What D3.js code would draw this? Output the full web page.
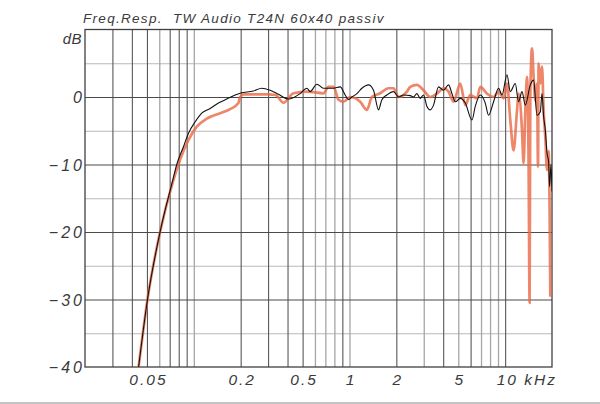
<!DOCTYPE html>
<html>
<head>
<meta charset="utf-8">
<script src="https://cdn.jsdelivr.net/npm/d3@7"></script>
<style>
  html, body { margin: 0; padding: 0; background: #ffffff; }
  svg { display: block; }
  text { font-family: "Liberation Sans", Arial, sans-serif; font-style: italic; fill: #3a3a3a; }
</style>
</head>
<body>
<svg id="chart" width="600" height="404"></svg>
<script>
// ---- data (frequency in kHz, level in dB) ----
const titleText = "Freq.Resp.  TW Audio T24N 60x40 passiv";
const yUnit = "dB";

const blackFreq = [0.0442,0.0504,0.0607,0.0733,0.0777,0.0857,0.0923,0.1019,0.1125,0.1273,0.1439,0.1629,0.1983,0.2414,0.2734,0.3093,0.3497,0.4055,0.4822,0.5325,0.559,0.6173,0.6807,0.7328,0.7894,0.8716,0.9385,0.9854,1.036,1.116,1.202,1.325,1.427,1.536,1.615,1.739,1.918,2.066,2.225,2.456,2.58,2.712,2.848,2.99,3.144,3.302,3.467,3.734,4.022,4.331,4.554,4.782,5.15,5.546,6.122,6.428,6.923,7.454,7.827,8.43,9.078,9.545,10.28,10.79,11.62,12.2,12.83,13.48,14.51,15.24,16.02,16.83,17.25,17.67,18.12,18.58,19.02,19.3,19.71,20.0];
const blackDb   = [-40,-30,-20,-12.3,-10,-7.4,-5.4,-3.7,-2.4,-1.7,-0.9,-0.3,0.55,0.9,1.3,1.0,0.4,-0.3,0.5,1.3,0.8,1.9,1.3,1.3,1.3,1.5,0.3,-0.4,0.0,0.5,1.3,1.8,1.0,-1.9,-0.4,0.3,0.8,0.0,0.3,0.2,0.0,0.5,-0.2,0.3,-1.4,-1.9,-1.2,1.5,1.0,1.8,0.5,-0.7,-0.2,-0.9,-3.4,-1.4,0.3,-0.9,-2.7,-0.7,1.3,0.3,3.3,0.8,2.0,-0.7,0.8,-1.2,1.8,2.5,-2.7,-2.2,0.5,-2.9,-4.9,-8.3,-9.6,-13.3,-10,-14];

const orangeFreq = [0.0442,0.0504,0.0607,0.0733,0.0816,0.0923,0.1045,0.1212,0.1475,0.1711,0.1934,0.1983,0.21,0.25,0.3,0.335,0.3765,0.4366,0.5325,0.6807,0.7328,0.7894,0.85,0.9151,1.01,1.172,1.294,1.393,1.575,1.781,1.918,2.066,2.339,2.456,2.712,2.99,3.302,3.647,4.022,4.331,4.663,5.15,5.546,5.97,6.592,6.923,7.643,8.43,9.078,9.774,10.28,10.79,11.33,11.92,12.2,12.83,13.14,13.48,13.82,14.15,14.36,14.51,14.88,15.24,15.63,16.02,16.26,16.41,16.83,17.25,17.67,18.12,18.58,19.02,19.51];
const orangeDb   = [-40,-30,-20,-12.6,-9.3,-6.4,-4.4,-3.2,-2.4,-1.8,-0.9,0.0,0.4,0.4,0.4,0.3,-0.85,0.55,0.8,0.55,1.5,1.5,-0.4,-0.7,0.0,-0.7,-1.9,0.0,0.55,1.3,1.3,0.0,0.8,1.5,1.8,1.0,0.0,0.5,1.3,0.8,-0.7,2.0,-1.2,0.3,-0.2,1.5,0.5,0.0,0.8,-0.2,2.0,-3.4,-7.9,-2.0,0.5,-4.9,-9.8,-2.0,3.0,-10,-30.5,0.0,7.2,3.0,-0.5,2.0,-10.3,5.0,2.0,4.5,-2.0,-6,-10.8,-8,-29.6];

const xGridValues = [0.03,0.04,0.05,0.06,0.07,0.08,0.09,0.1,0.2,0.3,0.4,0.5,0.6,0.7,0.8,0.9,1,2,3,4,5,6,7,8,9,10];
const xGridFaint = [0.06,0.1,0.6,0.7,0.8,1,3,5,7,8,9];
const yMajorGrid = [-30,-20,-10,0];
const yMinorGrid = [-35,-25,-15,-5,5];
const xTickValues = [0.05,0.2,0.5,1,2,5,10];
const xTickLabels = ["0.05","0.2","0.5","1","2","5","10 kHz"];
const yTickValues = [0,-10,-20,-30,-40];
const yTickLabels = ["0","\u221210","\u221220","\u221230","\u221240"];

// ---- layout ----
const svg = d3.select("#chart");
const L = 85, R = 552, T = 29.5, B = 367;
const x = d3.scaleLog().domain([0.02, 20]).range([L, R]);
const y = d3.scaleLinear().domain([-40, 10]).range([B, T]);

// bottom grey rule
svg.append("rect").attr("x", 0).attr("y", 402).attr("width", 600).attr("height", 2).attr("fill", "#c4c4c4");

// grid: minor horizontal
svg.append("g").attr("transform", `translate(${L},0)`)
  .call(d3.axisLeft(y).tickValues(yMinorGrid).tickSize(-(R - L)).tickFormat(""))
  .call(g => g.select(".domain").remove())
  .call(g => g.selectAll("line").attr("stroke", "#b8b8b8").attr("stroke-width", 1));

// grid: vertical
const faintSet = new Set(xGridFaint);
svg.append("g").attr("transform", `translate(0,${B})`)
  .call(d3.axisBottom(x).tickValues(xGridValues).tickSize(-(B - T)).tickFormat(""))
  .call(g => g.select(".domain").remove())
  .call(g => g.selectAll(".tick line")
    .attr("stroke", d => faintSet.has(d) ? "#a6a6a6" : "#585858")
    .attr("stroke-width", d => faintSet.has(d) ? 1.3 : 1.1));

// grid: major horizontal
svg.append("g").attr("transform", `translate(${L},0)`)
  .call(d3.axisLeft(y).tickValues(yMajorGrid).tickSize(-(R - L)).tickFormat(""))
  .call(g => g.select(".domain").remove())
  .call(g => g.selectAll("line").attr("stroke", "#4a4a4a").attr("stroke-width", 1.2));

// frame
svg.append("rect").attr("x", L).attr("y", T).attr("width", R - L).attr("height", B - T)
  .attr("fill", "none").attr("stroke", "#404040").attr("stroke-width", 1.3);

// clip
svg.append("clipPath").attr("id", "plotclip").append("rect")
  .attr("x", L).attr("y", T - 1).attr("width", R - L).attr("height", B - T + 1);

const line = d3.line().x(d => x(d[0])).y(d => y(d[1])).curve(d3.curveMonotoneX);
const orangeData = orangeFreq.map((f, i) => [f, orangeDb[i]]);
const blackData = blackFreq.map((f, i) => [f, blackDb[i]]);

const plot = svg.append("g").attr("clip-path", "url(#plotclip)");
plot.append("path").datum(orangeData).attr("d", line)
  .attr("fill", "none").attr("stroke", "#ea6843").attr("stroke-opacity", 0.8)
  .attr("stroke-width", 2.7).attr("stroke-linejoin", "round");
plot.append("path").datum(blackData).attr("d", line)
  .attr("fill", "none").attr("stroke", "#111111").attr("stroke-width", 1.1)
  .attr("stroke-linejoin", "round");

// x labels
const xLab = svg.append("g").attr("transform", `translate(0,${B})`)
  .call(d3.axisBottom(x).tickValues(xTickValues).tickSize(0).tickPadding(0)
    .tickFormat((d, i) => xTickLabels[i]))
  .call(g => g.select(".domain").remove());
xLab.selectAll("text")
  .attr("y", 18).attr("dy", 0)
  .style("font-size", "15.5px").style("letter-spacing", "2px")
  .attr("fill", "#3a3a3a").attr("dx", "1px");
xLab.selectAll("text").filter((d, i) => i === xTickValues.length - 1)
  .attr("text-anchor", "start").attr("dx", "-9px");

// y labels
const yLab = svg.append("g").attr("transform", `translate(${L},0)`)
  .call(d3.axisLeft(y).tickValues(yTickValues).tickSize(0).tickPadding(0)
    .tickFormat((d, i) => yTickLabels[i]))
  .call(g => g.select(".domain").remove());
yLab.selectAll("text")
  .attr("x", 0).attr("dx", 0).attr("dy", "0.36em")
  .style("font-size", "16px").style("letter-spacing", "3px")
  .attr("fill", "#3a3a3a");

// unit
svg.append("text").attr("x", 82).attr("y", 44).attr("text-anchor", "end")
  .style("font-size", "15px").style("letter-spacing", "0.5px").text(yUnit);

// title
svg.append("text").attr("x", 83).attr("y", 22.5)
  .style("font-size", "13.5px").style("letter-spacing", "1.3px")
  .style("white-space", "pre").attr("fill", "#333").text(titleText);
</script>
</body>
</html>
